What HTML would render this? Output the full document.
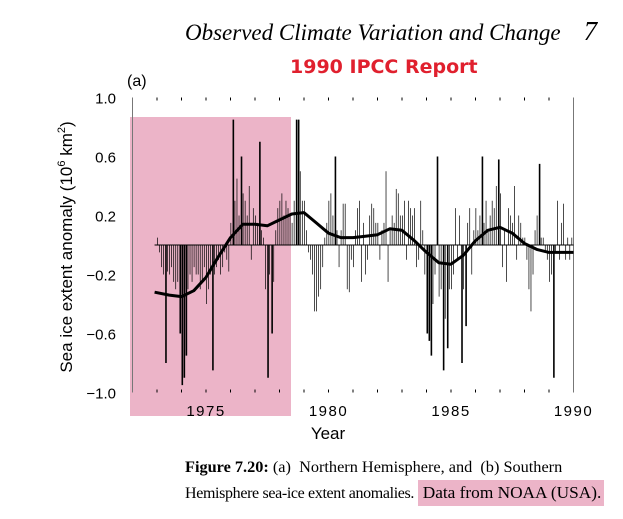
<!DOCTYPE html>
<html><head><meta charset="utf-8">
<style>
body{margin:0;width:623px;height:519px;background:#fff;overflow:hidden;position:relative;}
.t{position:absolute;white-space:nowrap;}
</style></head><body>
<div class="t" style="left:185px;top:16px;font:italic 23px 'Liberation Serif',serif;">Observed Climate Variation and Change&nbsp;&nbsp;&nbsp; <span style="font-size:27px">7</span></div>
<div class="t" style="left:290px;top:56px;font:bold 19px 'DejaVu Sans','Liberation Sans',sans-serif;color:#e0202e;">1990 IPCC Report</div>
<div class="t" style="left:185px;top:457px;font:16.3px 'Liberation Serif',serif;"><b>Figure 7.20:</b> (a)&nbsp; Northern Hemisphere, and&nbsp; (b) Southern</div>
<div class="t" style="left:185px;top:483px;font:16px 'Liberation Serif',serif;letter-spacing:-0.35px;">Hemisphere sea-ice extent anomalies.&nbsp;<span style="background:#ecb4c8;padding:3px 3px 4px 5px;font-size:17.3px;letter-spacing:0;">Data from NOAA (USA).</span></div>
<svg id="c" width="623" height="519" style="position:absolute;left:0;top:0"></svg>
<script>
const yearStart = 1973;
const monthly = [
[0.05,-0.05,-0.15,-0.2,-0.8,-0.18,-0.2,-0.15,-0.25,-0.3,-0.25,-0.6],
[-0.95,-0.9,-0.75,-0.3,-0.2,-0.25,-0.15,-0.2,-0.2,-0.3,-0.25,-0.15],
[-0.4,-0.3,-0.2,-0.85,-0.2,-0.15,-0.1,-0.2,-0.15,-0.05,-0.1,-0.18],
[0.15,0.85,0.3,0.45,0.2,0.6,0.35,0.3,0.2,0.4,-0.1,0.25],
[0.2,0.15,0.7,0.1,0.05,-0.3,-0.9,-0.2,-0.6,-0.25,0.1,0.25],
[0.3,0.35,0.2,0.3,0.25,0.2,0.15,0.3,0.85,0.85,0.5,0.3],
[0.3,0.1,-0.05,-0.1,-0.2,-0.45,-0.45,-0.35,-0.3,-0.15,0.05,0.15],
[0.3,0.35,0.2,0.6,0.1,-0.15,0.1,0.28,0.28,-0.3,-0.32,-0.1],
[-0.15,0.1,0.25,0.3,-0.25,0.15,-0.2,-0.1,0.2,0.28,0.25,0.15],
[0.15,-0.1,0.1,0.15,0.5,-0.25,0.1,0.2,0.15,0.38,0.35,0.2],
[0.2,0.3,-0.1,0.3,0.25,0.2,0.25,-0.15,-0.1,0.3,0.1,-0.2],
[-0.6,-0.65,-0.75,-0.4,-0.2,0.6,-0.35,-0.3,-0.85,-0.5,-0.7,-0.3],
[-0.3,-0.2,0.25,-0.1,0.2,-0.8,-0.3,-0.55,0.15,0.25,-0.2,0.1],
[0.25,0.1,0.2,0.6,0.15,0.3,0.1,0.2,0.3,0.25,0.4,0.58],
[0.35,-0.15,0.1,-0.25,0.25,0.2,0.15,0.4,-0.1,0.2,0.15,0.05],
[0.05,-0.1,-0.3,-0.45,-0.2,0.1,0.2,0.55,0.05,0.05,-0.05,-0.1],
[-0.25,-0.2,-0.9,-0.05,0.3,-0.1,0.15,0.28,-0.1,0.05,-0.1,0.05]
];
const smoothYears = [1972.9,1973.5,1974,1974.5,1975,1975.5,1976,1976.5,1977,1977.5,1978,1978.5,1979,1979.5,1980,1980.5,1981,1981.5,1982,1982.5,1983,1983.5,1984,1984.5,1985,1985.5,1986,1986.5,1987,1987.5,1988,1988.5,1989,1989.5,1990];
const smoothVals = [-0.32,-0.34,-0.35,-0.31,-0.22,-0.08,0.05,0.14,0.14,0.13,0.17,0.21,0.22,0.15,0.08,0.05,0.05,0.06,0.07,0.11,0.10,0.03,-0.05,-0.12,-0.13,-0.07,0.03,0.10,0.12,0.08,0.01,-0.03,-0.05,-0.05,-0.05];
const yTicks = ["1.0","0.6","0.2","\u22120.2","\u22120.6","\u22121.0"];
const yTickVals = [1,0.6,0.2,-0.2,-0.6,-1];
const xLabels = ["1975","1980","1985","1990"];
const xLabelVals = [1975,1980,1985,1990];

const NS="http://www.w3.org/2000/svg";
const svg=document.getElementById('c');
const X=y=>132.5+(y-1972)*24.5;
const Y=v=>245-v*147.5;
function mk(tag,attrs,parent){const e=document.createElementNS(NS,tag);for(const k in attrs)e.setAttribute(k,attrs[k]);(parent||svg).appendChild(e);return e;}

let e=mk('rect',{x:130,y:117,width:161,height:299,fill:'#ecb4c8'});



e=mk('line',{x1:X(1972),y1:Y(1),x2:X(1972),y2:Y(-1),stroke:'#777','stroke-width':1});


e=mk('line',{x1:X(1990),y1:Y(1),x2:X(1990),y2:Y(-1),stroke:'#777','stroke-width':1});


e=mk('line',{x1:X(1972.9),y1:Y(0),x2:X(1990),y2:Y(0),stroke:'#000','stroke-width':1});



for(let yr=1973;yr<=1989;yr++){
  e=mk('line',{x1:X(yr),y1:Y(1),x2:X(yr),y2:Y(1)+3,stroke:'#000','stroke-width':1});
  
  
  e=mk('line',{x1:X(yr),y1:Y(-1),x2:X(yr),y2:Y(-1)-3,stroke:'#000','stroke-width':1});
  
  
}

monthly.forEach((row,i)=>{row.forEach((v,m)=>{
  const x=X(yearStart+i+m/12);
  const w=Math.abs(v)>0.5?1.6:0.7;
  e=mk('rect',{x:x,y:Math.min(Y(v),Y(0)),width:w,height:Math.abs(Y(v)-Y(0)),fill:'#000'});
  
  
});});

let d=smoothYears.map((y,i)=>(i?'L':'M')+X(y).toFixed(1)+','+Y(smoothVals[i]).toFixed(1)).join(' ');
e=mk('path',{d:d,fill:'none',stroke:'#000','stroke-width':3,'stroke-linejoin':'round'});



yTicks.forEach((t,i)=>{
  e=mk('text',{x:116,y:Y(yTickVals[i])+6,'text-anchor':'end','font-family':'Liberation Sans, sans-serif','font-size':15});
  e.textContent=t;
  
  
});
xLabels.forEach((t,i)=>{
  e=mk('text',{x:X(xLabelVals[i]),y:416,'text-anchor':'middle','font-family':'Liberation Sans, sans-serif','font-size':15,'letter-spacing':'1.5'});
  e.textContent=t;
  
  
});
e=mk('text',{x:328,y:439,'text-anchor':'middle','font-family':'Liberation Sans, sans-serif','font-size':17});
e.textContent='Year';


e=mk('text',{x:127,y:86,'font-family':'Liberation Sans, sans-serif','font-size':16});
e.textContent='(a)';


e=mk('text',{x:0,y:0,'text-anchor':'middle','font-family':'Liberation Sans, sans-serif','font-size':17,transform:'translate(72,247) rotate(-90)'});
e.innerHTML='Sea ice extent anomaly (10<tspan font-size="11" dy="-7">6</tspan><tspan dy="7"> km</tspan><tspan font-size="11" dy="-7">2</tspan><tspan dy="7">)</tspan>';


</script>
</body></html>
